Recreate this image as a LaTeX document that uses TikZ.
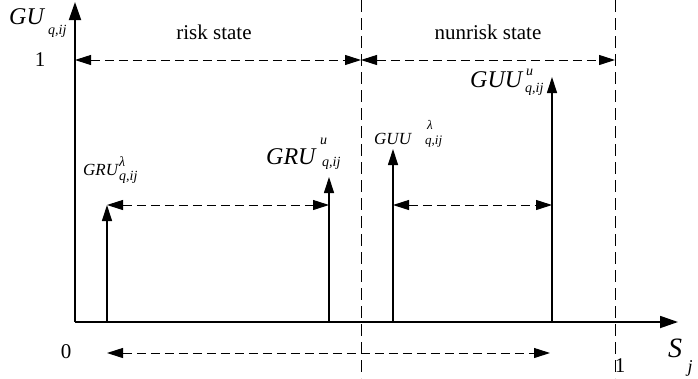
\documentclass[tikz,border=0pt]{standalone}
\usepackage{fontspec}
\setmainfont{Liberation Serif}
\usetikzlibrary{arrows.meta}
\begin{document}
\begin{tikzpicture}[x=1pt,y=-1pt,
  axis/.style={line width=1.8pt,-{Triangle[length=18pt,width=12pt]}},
  level/.style={line width=1.2pt,-{Triangle[length=16pt,width=10pt]}},
  span/.style={line width=1pt,dash pattern=on 9pt off 5pt,{Triangle[length=16pt,width=10pt]}-{Triangle[length=16pt,width=10pt]}},
  bound/.style={line width=1pt,dash pattern=on 12pt off 6pt},
  txt/.style={inner sep=0pt,font=\fontsize{21}{24}\selectfont},
  big/.style={inner sep=0pt,font=\fontsize{24}{28}\selectfont\itshape},
  small/.style={inner sep=0pt,font=\fontsize{17}{20}\selectfont\itshape},
  idx/.style={inner sep=0pt,font=\fontsize{14}{16}\selectfont\itshape},
  sidx/.style={inner sep=0pt,font=\fontsize{13}{15}\selectfont\itshape}]
\useasboundingbox (0,0) rectangle (698,378);

% key points of the plot
\coordinate (O) at (75,322);
\coordinate (ytop) at (75,2);
\coordinate (xend) at (678,322);
\coordinate (b1top) at (361,0);
\coordinate (b1bot) at (361,378);
\coordinate (b2top) at (615,0);
\coordinate (b2bot) at (615,378);
\coordinate (l1) at (75,60);
\coordinate (m1) at (361,60);
\coordinate (r1) at (615,60);
\coordinate (a1base) at (107,322);
\coordinate (a1tip) at (107,205);
\coordinate (a2base) at (329,322);
\coordinate (a2tip) at (329,177);
\coordinate (a3base) at (393,322);
\coordinate (a3tip) at (393,149);
\coordinate (a4base) at (552,322);
\coordinate (a4tip) at (552,77);
\coordinate (a2mid) at (329,205);
\coordinate (a3mid) at (393,205);
\coordinate (a4mid) at (552,205);
\coordinate (lowl) at (107,353);
\coordinate (lowr) at (550,353);

% state boundaries
\draw[bound] (b1top) -- (b1bot);
\draw[bound] (b2top) -- (b2bot);

% axes
\draw[axis] (O) -- (ytop);
\draw[axis] (O) -- (xend);

% state ranges
\draw[span] (l1) -- (m1);
\draw[span] (m1) -- (r1);

% membership levels
\draw[level] (a1base) -- (a1tip);
\draw[level] (a2base) -- (a2tip);
\draw[level] (a3base) -- (a3tip);
\draw[level] (a4base) -- (a4tip);

% intervals
\draw[span] (a1tip) -- (a2mid);
\draw[span] (a3mid) -- (a4mid);
\draw[span] (lowl) -- (lowr);

% axis labels
\node[big,anchor=west] (gu) at (9,17) {GU};
\node[idx,anchor=west] (gusub) at (48,31) {q,ij};
\node[txt] (one) at (40,60) {1};
\node[txt] (zero) at (66,352) {0};
\node[txt] (onex) at (620,366) {1};
\node[inner sep=0pt,font=\fontsize{28}{32}\selectfont\itshape] (s) at (675,348) {S};
\node[inner sep=0pt,font=\fontsize{18}{20}\selectfont\itshape] (sj) at (690,368) {j};

% state names
\node[txt] (risk) at (214,32) {risk state};
\node[txt] (nonrisk) at (488,32) {nunrisk state};

% level labels
\node[small,anchor=west] (gru1) at (83,170) {GRU};
\node[idx,anchor=west] (gru1sup) at (119,162) {λ};
\node[idx,anchor=west] (gru1sub) at (119,177) {q,ij};

\node[big,anchor=west] (gru2) at (266,157) {GRU};
\node[idx,anchor=west] (gru2sup) at (320,141) {u};
\node[idx,anchor=west] (gru2sub) at (322,163) {q,ij};

\node[small,anchor=west] (guu1) at (374,139) {GUU};
\node[sidx,anchor=west] (guu1sup) at (427,125) {λ};
\node[sidx,anchor=west] (guu1sub) at (425,142) {q,ij};

\node[big,anchor=west] (guu2) at (470,80) {GUU};
\node[idx,anchor=west] (guu2sup) at (526,72) {u};
\node[idx,anchor=west] (guu2sub) at (525,89) {q,ij};
\end{tikzpicture}
\end{document}
